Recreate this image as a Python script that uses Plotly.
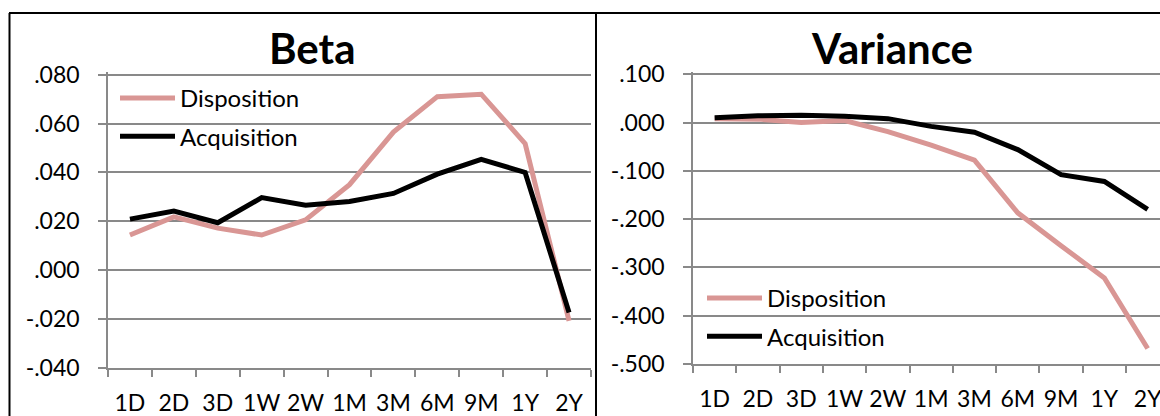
import plotly.graph_objects as go

# Horizons on the x axis
horizons = ["1D", "2D", "3D", "1W", "2W", "1M", "3M", "6M", "9M", "1Y", "2Y"]

# Beta panel
beta_disposition = [0.0144, 0.0218, 0.0172, 0.0144, 0.0206, 0.0350, 0.0565, 0.0710, 0.0720, 0.0518, -0.0207]
beta_acquisition = [0.0209, 0.0242, 0.0194, 0.0297, 0.0266, 0.0281, 0.0314, 0.0393, 0.0453, 0.0400, -0.0173]

# Variance panel
variance_disposition = [0.008, 0.007, 0.000, 0.004, -0.019, -0.047, -0.078, -0.187, -0.255, -0.322, -0.468]
variance_acquisition = [0.010, 0.014, 0.015, 0.013, 0.008, -0.008, -0.020, -0.056, -0.108, -0.122, -0.180]

# Tick labels
beta_tickvals = [0.08, 0.06, 0.04, 0.02, 0.0, -0.02, -0.04]
beta_ticktext = [".080", ".060", ".040", ".020", ".000", "-.020", "-.040"]
variance_tickvals = [0.1, 0.0, -0.1, -0.2, -0.3, -0.4, -0.5]
variance_ticktext = [".100", ".000", "-.100", "-.200", "-.300", "-.400", "-.500"]

W, H = 1160, 416
FONT = "Lato"
PINK = "#D99694"
BLACK = "#000000"
GRID = "#898989"


def px(x):
    return x / W


def py(y):
    return 1 - y / H


fig = go.Figure()

series = [
    ("Disposition", beta_disposition, PINK, "x", "y", "legend", "d1"),
    ("Acquisition", beta_acquisition, BLACK, "x", "y", "legend", "a1"),
    ("Disposition", variance_disposition, PINK, "x2", "y2", "legend2", "d2"),
    ("Acquisition", variance_acquisition, BLACK, "x2", "y2", "legend2", "a2"),
]
for name, vals, color, xa, ya, leg, grp in series:
    fig.add_trace(go.Scatter(
        x=horizons, y=vals, name=name, mode="lines",
        line=dict(color=color, width=5),
        xaxis=xa, yaxis=ya, legend=leg, legendgroup=grp,
    ))

xcommon = dict(
    type="category", tickson="boundaries", ticks="outside", ticklen=7,
    tickwidth=1.5, tickcolor=GRID, showline=True, linecolor=GRID, linewidth=1.5,
    showgrid=False, zeroline=False, tickfont=dict(family=FONT, size=23, color="black"),
    tickangle=0, ticklabelstandoff=14, automargin=False, fixedrange=True,
)
ycommon = dict(
    ticks="outside", ticklen=8, tickwidth=1.5, tickcolor=GRID,
    showline=True, linecolor=GRID, linewidth=1.5,
    showgrid=True, gridcolor=GRID, gridwidth=1.5, zeroline=False,
    tickfont=dict(family=FONT, size=23, color="black"),
    ticklabelstandoff=14, automargin=False, fixedrange=True,
)

# Each entry sits in its own group so the group gap spaces the rows
legcommon = dict(
    xanchor="left", yanchor="top", bgcolor="rgba(0,0,0,0)",
    font=dict(family=FONT, size=24, color="black"),
    itemwidth=55, tracegroupgap=4, traceorder="grouped",
)

fig.update_layout(
    width=W, height=H,
    margin=dict(l=0, r=0, t=0, b=0, autoexpand=False),
    paper_bgcolor="white", plot_bgcolor="white",
    showlegend=True,
    xaxis=dict(domain=[px(108), px(591)], range=[-0.5, 10.5], anchor="y", **xcommon),
    yaxis=dict(domain=[py(368), py(72.2)], range=[-0.040, 0.081], anchor="x",
               tickvals=beta_tickvals, ticktext=beta_ticktext, **ycommon),
    xaxis2=dict(domain=[px(693), 1.0], range=[-0.5, 10.285], anchor="y2", **xcommon),
    yaxis2=dict(domain=[py(364), py(71.8)], range=[-0.5, 0.105], anchor="x2",
                tickvals=variance_tickvals, ticktext=variance_ticktext, **ycommon),
    legend=dict(x=px(115), y=py(76), **legcommon),
    legend2=dict(x=px(702), y=py(276), **legcommon),
)

# Chart titles
for text, xc in [("Beta", 312), ("Variance", 892)]:
    fig.add_annotation(
        text=text, x=px(xc), y=py(48), xref="paper", yref="paper",
        xanchor="center", yanchor="middle", showarrow=False,
        font=dict(family=FONT, size=42, color="black", weight="bold"),
    )

# Chart frames
border = dict(color="black", width=2)
for x0, y0, x1, y1 in [(9, 13, W, 13), (9.5, 13, 9.5, H), (596, 13, 596, H)]:
    fig.add_shape(type="line", xref="paper", yref="paper",
                  x0=px(x0), y0=py(y0), x1=px(x1), y1=py(y1), line=border)

fig.write_html("out.html")
